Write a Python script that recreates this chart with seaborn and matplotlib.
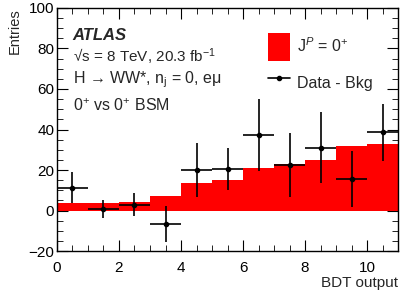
import matplotlib
matplotlib.use("Agg")
import matplotlib.pyplot as plt
import seaborn as sns
from matplotlib.patches import Patch
from matplotlib.lines import Line2D
from matplotlib.ticker import MultipleLocator

# -----------------------------
# data
# -----------------------------
bin_edges = [0, 1, 2, 3, 4, 5, 6, 7, 8, 9, 10, 11]
bin_centers = [0.5, 1.5, 2.5, 3.5, 4.5, 5.5, 6.5, 7.5, 8.5, 9.5, 10.5]
signal_0p = [3.7, 3.9, 4.3, 7.3, 13.8, 15.3, 21.2, 22.8, 24.8, 32.0, 32.7]
data_minus_bkg = [11.3, 0.9, 2.9, -6.7, 20.0, 20.6, 37.3, 22.5, 30.9, 15.6, 38.6]
data_err = [7.5, 4.5, 5.6, 8.9, 13.2, 10.5, 17.7, 15.7, 17.5, 13.7, 14.0]

sns.set_style("ticks")
plt.rcParams['font.family'] = ['Liberation Sans', 'DejaVu Sans']
plt.rcParams['mathtext.fontset'] = 'custom'
plt.rcParams['mathtext.rm'] = 'Liberation Sans'
plt.rcParams['mathtext.it'] = 'Liberation Sans:italic'
plt.rcParams['mathtext.bf'] = 'Liberation Sans:bold'

fig = plt.figure(figsize=(4.07, 2.92), dpi=100)
ax = fig.add_axes([0.140, 0.140, 0.838, 0.833])

# signal template as a filled step histogram, data - bkg as points
sns.histplot(x=bin_centers, weights=signal_0p, bins=bin_edges, color='#ff0000',
             alpha=1, edgecolor='none', linewidth=0, element='step', ax=ax)
ax.errorbar(bin_centers, data_minus_bkg, yerr=data_err, xerr=0.5, fmt='o',
            color='black', ms=3, elinewidth=1.2, capsize=0)

ax.set_xlim(0, 11)
ax.set_ylim(-20, 100)
ax.xaxis.set_major_locator(MultipleLocator(2))
ax.xaxis.set_minor_locator(MultipleLocator(0.5))
ax.yaxis.set_major_locator(MultipleLocator(20))
ax.yaxis.set_minor_locator(MultipleLocator(5))
ax.tick_params(which='both', direction='in', top=True, right=True, labelsize=11, colors='black')
ax.tick_params(which='major', length=8)
ax.tick_params(which='minor', length=4)
ax.tick_params(axis='x', which='major', pad=7)
ax.tick_params(axis='y', which='major', pad=2)
for s in ax.spines.values():
    s.set_color('black')
    s.set_linewidth(1)

ax.set_xlabel("BDT output", loc='right', fontsize=11, labelpad=1)
ax.set_ylabel("Entries", loc='top', fontsize=10.5, labelpad=5)

ax.text(0.046, 0.868, "ATLAS", transform=ax.transAxes, fontsize=12,
        fontweight='bold', fontstyle='italic')
ax.text(0.046, 0.775, "√s = 8 TeV, 20.3 fb$^{-1}$", transform=ax.transAxes, fontsize=11)
ax.text(0.046, 0.691, "H → WW*, n$_{\\mathrm{j}}$ = 0, eμ", transform=ax.transAxes, fontsize=11.5)
ax.text(0.046, 0.578, "0$^{+}$ vs 0$^{+}$ BSM", transform=ax.transAxes, fontsize=11.5)

handles = [Patch(facecolor='#ff0000', edgecolor='none'),
           Line2D([0], [0], color='black', marker='o', ms=3, lw=1.2)]
ax.legend(handles, ["J$^{P}$ = 0$^{+}$", "Data - Bkg"], loc='upper left',
          bbox_to_anchor=(0.619, 0.897), frameon=False, fontsize=11.5, borderpad=0,
          borderaxespad=0, handlelength=1.4, handleheight=2.3, labelspacing=0.5,
          handletextpad=0.4)

fig.savefig("out.png", dpi=100)
